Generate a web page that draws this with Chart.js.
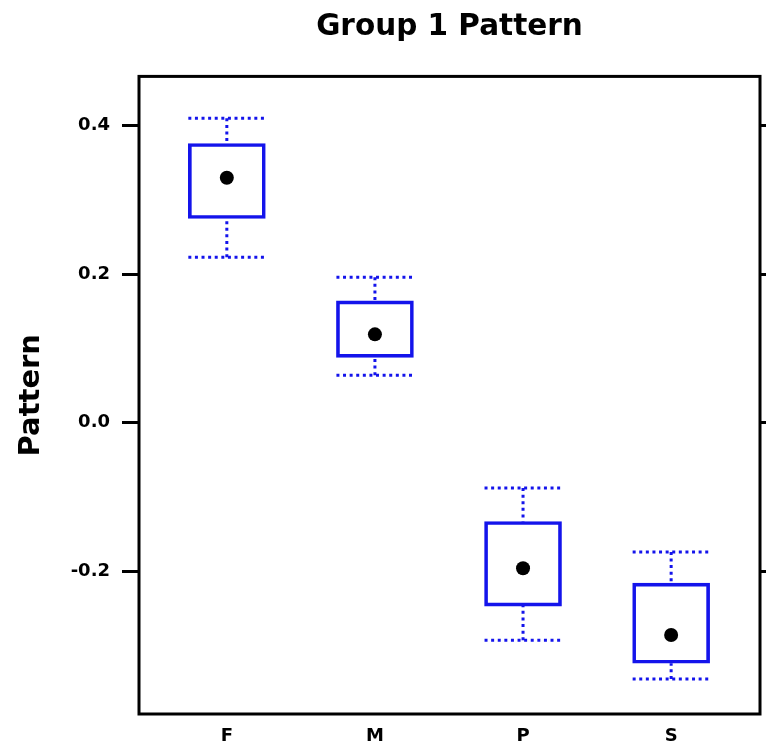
<!DOCTYPE html>
<html>
<head>
<meta charset="utf-8">
<script src="https://cdn.jsdelivr.net/npm/chart.js@4"></script>
<style>
  html, body { margin: 0; padding: 0; background: #fff; }
  #wrap { width: 767px; height: 754px; position: relative; }
</style>
</head>
<body>
<div id="wrap"><canvas id="patternChart"></canvas></div>
<script>
// group 1 pattern - box summary per category
const categories = ['F', 'M', 'P', 'S'];
const whiskerHigh = [0.410, 0.196, -0.088, -0.174];
const boxHigh = [0.376, 0.164, -0.133, -0.216];
const medians = [0.330, 0.119, -0.196, -0.286];
const boxLow = [0.275, 0.088, -0.247, -0.324];
const whiskerLow = [0.223, 0.064, -0.293, -0.345];
const yTicks = [-0.2, 0.0, 0.2, 0.4];

const blue = 'rgb(20, 20, 235)';
const fontFamily = '"DejaVu Sans", Arial, sans-serif';
const boxWidthPx = 77;

// dotted whiskers + caps, drawn with the chart's own scales
const whiskerPlugin = {
    id: 'whiskers',
    beforeDatasetsDraw(chart) {
        const ctx = chart.ctx;
        const x = chart.scales.x;
        const y = chart.scales.y;
        ctx.save();
        ctx.strokeStyle = blue;
        ctx.lineWidth = 3;
        ctx.setLineDash([3, 3.6]);
        categories.forEach((c, i) => {
            const px = x.getPixelForValue(i);
            const half = boxWidthPx / 2;
            const hi = y.getPixelForValue(whiskerHigh[i]);
            const lo = y.getPixelForValue(whiskerLow[i]);
            ctx.beginPath();
            ctx.moveTo(px - half, hi);
            ctx.lineTo(px + half, hi);
            ctx.moveTo(px - half, lo);
            ctx.lineTo(px + half, lo);
            ctx.moveTo(px, hi);
            ctx.lineTo(px, y.getPixelForValue(boxHigh[i]));
            ctx.moveTo(px, lo);
            ctx.lineTo(px, y.getPixelForValue(boxLow[i]));
            ctx.stroke();
        });
        ctx.restore();
    },
    afterDraw(chart) {
        const a = chart.chartArea;
        const ctx = chart.ctx;
        ctx.save();
        ctx.strokeStyle = '#000';
        ctx.lineWidth = 3;
        ctx.strokeRect(a.left, a.top, a.right - a.left, a.bottom - a.top);
        ctx.restore();
    }
};

const ctx = document.getElementById('patternChart').getContext('2d');
new Chart(ctx, {
    data: {
        datasets: [{
            type: 'bar',
            label: 'box',
            data: categories.map((c, i) => ({ x: i, y: [boxLow[i], boxHigh[i]] })),
            backgroundColor: 'rgba(255,255,255,0)',
            borderColor: blue,
            borderWidth: 3,
            borderSkipped: false,
            barThickness: boxWidthPx
        }, {
            type: 'scatter',
            label: 'median',
            data: categories.map((c, i) => ({ x: i, y: medians[i] })),
            pointRadius: 7,
            pointBackgroundColor: '#000',
            pointBorderWidth: 0
        }]
    },
    options: {
        responsive: true,
        maintainAspectRatio: false,
        animation: false,
        layout: {
            padding: { left: 14, right: 0, top: 0, bottom: 0 }
        },
        plugins: {
            legend: { display: false },
            tooltip: { enabled: false },
            title: {
                display: true,
                text: 'Group 1 Pattern',
                fullSize: false,
                color: '#000',
                font: { family: fontFamily, size: 29.5, weight: 'bold' },
                padding: { top: 10, bottom: 31 }
            }
        },
        scales: {
            x: {
                type: 'linear',
                min: -0.593,
                max: 3.6,
                offset: false,
                border: { display: false },
                grid: { display: false, drawTicks: false },
                afterFit: scale => { scale.height = 40; },
                ticks: {
                    stepSize: 1,
                    includeBounds: false,
                    autoSkip: false,
                    maxRotation: 0,
                    padding: 11.5,
                    color: '#000',
                    font: { family: fontFamily, size: 18, weight: 'bold' },
                    callback: v => (Number.isInteger(v) ? categories[v] : '')
                }
            },
            y: {
                min: -0.3923,
                max: 0.4664,
                border: { display: false },
                grid: {
                    drawOnChartArea: false,
                    tickLength: 17,
                    tickWidth: 3,
                    tickColor: '#000'
                },
                afterBuildTicks: scale => {
                    scale.ticks = yTicks.map(v => ({ value: v }));
                },
                afterFit: scale => { scale.width = 125; },
                ticks: {
                    padding: 12,
                    color: '#000',
                    font: { family: fontFamily, size: 18, weight: 'bold' },
                    callback: v => v.toFixed(1)
                },
                title: {
                    display: true,
                    text: 'Pattern',
                    color: '#000',
                    font: { family: fontFamily, size: 29, weight: 'bold' },
                    padding: { top: 0, bottom: 10 }
                }
            },
            y2: {
                position: 'right',
                min: -0.3923,
                max: 0.4664,
                border: { display: false },
                grid: {
                    drawOnChartArea: false,
                    tickLength: 6,
                    tickWidth: 3,
                    tickColor: '#000'
                },
                afterBuildTicks: scale => {
                    scale.ticks = yTicks.map(v => ({ value: v }));
                },
                ticks: { display: false }
            }
        }
    },
    plugins: [whiskerPlugin]
});
</script>
</body>
</html>
